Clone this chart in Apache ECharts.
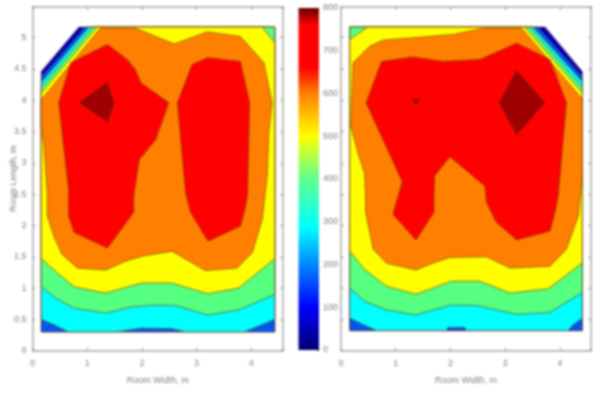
<!DOCTYPE html>
<html><head><meta charset="utf-8">
<style>html,body{margin:0;padding:0;background:#fff}#c{width:600px;height:400px;filter:blur(1px)}</style>
<script src="https://cdn.jsdelivr.net/npm/echarts@6/dist/echarts.min.js"></script>
</head><body><div id="c"></div>
<script>
var levelColors = ['#0000b4','#0058f0','#00ffff','#55ff80','#ffff00','#ff8000','#ff0000','#a00000'];
var xTicks = [0,1,2,3,4];
var colorbarStops = [[0,'#000070'],[0.125,'#0000ff'],[0.36,'#00ffff'],[0.5,'#60ff90'],[0.625,'#ffff00'],[0.75,'#ff8000'],[0.825,'#ff0000'],[0.95,'#ff0000'],[1,'#600000']];
var colorbarMax = 800;

var leftBase = [[0.16,0.3],[4.43,0.3],[4.43,5.17],[0.85,5.17],[0.16,4.46]];
var leftBlue = [[0.16,0.3],[4.43,0.3],[4.43,5.17],[0.96,5.17],[0.16,4.37]];
var leftCyan = [[0.16,0.5],[0.4,0.41],[0.65,0.3],[1.52,0.3],[2.0,0.36],[2.55,0.35],[2.8,0.3],[3.87,0.3],[4.1,0.38],[4.43,0.5],[4.43,5.17],[1.03,5.17],[0.16,4.29]];
var leftGreen = [[0.16,1.02],[0.42,0.84],[0.76,0.68],[1.34,0.6],[1.82,0.7],[2.25,0.73],[2.62,0.72],[3.2,0.57],[3.77,0.65],[4.43,0.9],[4.43,5.17],[1.1,5.17],[0.16,4.21]];
var leftYellow = [[0.16,1.47],[0.42,1.27],[0.76,1.02],[1.34,0.92],[1.82,1.04],[2.0,1.08],[2.55,1.08],[3.2,0.91],[3.77,1.0],[4.43,1.47],[4.43,4.92],[4.2,5.17],[1.18,5.17],[0.16,4.12]];
var leftOrange = [[0.16,4.01],[0.16,3.59],[0.21,3.27],[0.27,2.52],[0.27,2.16],[0.39,1.83],[0.54,1.54],[0.82,1.32],[1.34,1.29],[1.7,1.43],[2.0,1.51],[2.55,1.59],[3.16,1.28],[3.74,1.32],[4.02,1.57],[4.2,2.1],[4.29,2.79],[4.32,3.48],[4.38,3.96],[4.23,4.6],[3.8,5.02],[3.2,5.09],[2.59,4.9],[1.88,5.15],[1.24,5.15]];
var leftRedA = [[1.37,4.89],[1.73,4.65],[1.88,4.49],[1.98,4.28],[2.49,3.96],[2.25,3.37],[1.95,3.05],[1.85,2.47],[1.85,2.21],[1.37,1.64],[0.76,1.89],[0.66,2.16],[0.66,2.57],[0.48,3.96],[0.7,4.6]];
var leftRedB = [[3.2,4.68],[3.8,4.62],[3.97,3.96],[3.93,2.47],[3.87,2.21],[3.8,1.99],[3.21,1.75],[2.89,2.21],[2.8,2.52],[2.65,3.96],[2.92,4.57]];
var leftPeak = [[1.37,4.29],[1.49,3.96],[1.38,3.65],[0.85,3.96]];

var rightBase = [[0.16,0.32],[4.41,0.32],[4.41,4.46],[3.73,5.17],[0.16,5.17]];
var rightBlue = [[0.16,0.32],[4.41,0.32],[4.41,4.38],[3.6,5.17],[0.16,5.17]];
var rightCyan = [[0.16,0.52],[0.37,0.43],[0.65,0.32],[1.93,0.32],[1.96,0.37],[2.26,0.37],[2.29,0.32],[4.15,0.32],[4.24,0.41],[4.41,0.52],[4.41,4.3],[3.51,5.17],[0.16,5.17]];
var rightGreen = [[0.16,1.0],[0.43,0.79],[0.83,0.65],[1.37,0.57],[1.68,0.65],[2.02,0.73],[2.48,0.72],[2.96,0.63],[3.21,0.58],[3.82,0.61],[4.41,0.93],[4.41,4.21],[3.45,5.17],[0.16,5.17]];
var rightYellow = [[0.16,1.59],[0.43,1.3],[0.83,1.03],[1.37,0.9],[1.68,1.0],[2.02,1.11],[2.54,1.11],[3.09,0.92],[3.79,0.99],[4.41,1.4],[4.41,4.12],[3.36,5.17],[0.49,5.17],[0.16,4.97]];
var rightOrange = [[3.3,5.15],[2.6,5.15],[2.05,5.05],[0.77,4.96],[0.52,4.86],[0.22,4.6],[0.18,3.59],[0.31,3.16],[0.43,2.84],[0.45,2.47],[0.45,2.21],[0.59,1.62],[0.83,1.4],[1.37,1.29],[1.68,1.4],[1.99,1.49],[2.66,1.5],[3.09,1.32],[3.82,1.35],[4.12,1.62],[4.34,2.16],[4.41,2.79],[4.41,4.02]];
var rightRed = [[0.74,4.62],[1.32,4.69],[1.87,4.62],[2.54,4.65],[3.21,4.91],[3.82,4.65],[4.12,3.96],[3.97,2.47],[3.91,2.21],[3.82,1.91],[3.21,1.77],[2.84,2.05],[2.66,2.37],[2.63,2.63],[1.99,3.1],[1.71,2.79],[1.7,2.47],[1.7,2.21],[1.37,1.77],[0.95,2.18],[1.12,2.7],[0.46,3.96]];
var rightPeakA = [[3.21,4.48],[3.73,3.96],[3.21,3.45],[2.89,3.96]];
var rightPeakB = [[1.37,4.03],[1.43,3.98],[1.37,3.93],[1.31,3.98]];

var leftLayers = [[leftBase,0],[leftBlue,1],[leftCyan,2],[leftGreen,3],[leftYellow,4],[leftOrange,5],[leftRedA,6],[leftRedB,6],[leftPeak,7]];
var rightLayers = [[rightBase,0],[rightBlue,1],[rightCyan,2],[rightGreen,3],[rightYellow,4],[rightOrange,5],[rightRed,6],[rightPeakA,7],[rightPeakB,7]];

var axisColor = '#a8a8a8', textColor = '#808080', font = 'Liberation Sans';

function polygonSeries(layers, axisIndex) {
  return layers.map(function (l) {
    var fill = levelColors[l[1]];
    return {
      type: 'custom', coordinateSystem: 'cartesian2d',
      xAxisIndex: axisIndex, yAxisIndex: axisIndex,
      data: l[0], encode: {x: 0, y: 1}, silent: true, animation: false,
      renderItem: function (params, api) {
        if (params.dataIndex !== 0) return null;
        return {
          type: 'polygon',
          shape: {points: l[0].map(function (p) { return api.coord(p); })},
          style: {fill: fill, stroke: 'rgba(110,50,10,0.7)', lineWidth: 0.9}
        };
      }
    };
  });
}
function xAx(grid, pos, name, maxV) {
  return {
    type: 'value', gridIndex: grid, position: pos, min: 0, max: maxV, interval: 1,
    name: name, nameLocation: 'middle', nameGap: 25,
    nameTextStyle: {color: textColor, fontSize: 9, fontFamily: font},
    splitLine: {show: false},
    axisLine: {show: true, onZero: false, lineStyle: {color: axisColor, width: 1.5}},
    axisTick: {show: true, inside: true, length: 3, lineStyle: {color: '#999'}},
    axisLabel: {show: pos === 'bottom', color: textColor, fontSize: 9, fontFamily: font, margin: 8,
      formatter: function (v) { return xTicks.indexOf(v) >= 0 ? String(v) : ''; }}
  };
}
function yAx(grid, pos, labels, name) {
  return {
    type: 'value', gridIndex: grid, position: pos, min: 0, max: 5.49, interval: 0.5,
    name: name, nameLocation: 'middle', nameGap: 14, nameMoveOverlap: false,
    nameTextStyle: {color: textColor, fontSize: 9, fontFamily: font},
    splitLine: {show: false},
    axisLine: {show: true, onZero: false, lineStyle: {color: axisColor, width: 1.5}},
    axisTick: {show: true, inside: true, length: 3, lineStyle: {color: '#999'}},
    axisLabel: {show: labels, color: textColor, fontSize: 9, fontFamily: font, margin: 6,
      formatter: function (v) { return (v * 2) % 1 === 0 && v <= 5 ? String(v) : ''; }}
  };
}
var xAxes = [
  xAx(0, 'bottom', 'Room Width, m', 4.58), xAx(1, 'bottom', 'Room Width, m', 4.57),
  xAx(0, 'top', '', 4.58), xAx(1, 'top', '', 4.57),
  {type: 'category', gridIndex: 2, data: ['v'], axisLine: {show: false}, axisTick: {show: false}, axisLabel: {show: false}}
];
var yAxes = [
  yAx(0, 'left', true, 'Room Length, m'), yAx(1, 'left', false, ''),
  yAx(0, 'right', false, ''), yAx(1, 'right', false, ''),
  {type: 'value', gridIndex: 2, position: 'right', min: 0, max: colorbarMax, interval: 100, splitLine: {show: false},
   axisLine: {show: false}, axisTick: {show: true, inside: true, length: 2, lineStyle: {color: '#555'}},
   axisLabel: {color: textColor, fontSize: 9, fontFamily: font, margin: 4}}
];
var series = polygonSeries(leftLayers, 0).concat(polygonSeries(rightLayers, 1));
series.push({
  type: 'bar', xAxisIndex: 4, yAxisIndex: 4, data: [colorbarMax], barWidth: '100%', silent: true, animation: false,
  itemStyle: {color: new echarts.graphic.LinearGradient(0, 1, 0, 0, colorbarStops.map(function (s) { return {offset: s[0], color: s[1]}; }))}
});
var chart = echarts.init(document.getElementById('c'), null, {renderer: 'canvas'});
chart.setOption({
  animation: false,
  backgroundColor: '#fff',
  grid: [
    {left: 32.5, top: 7, width: 250.5, height: 343.7},
    {left: 341, top: 7, width: 250, height: 343.7},
    {left: 298.5, top: 8, width: 20.5, height: 342}
  ],
  xAxis: xAxes, yAxis: yAxes, series: series
});
</script></body></html>
